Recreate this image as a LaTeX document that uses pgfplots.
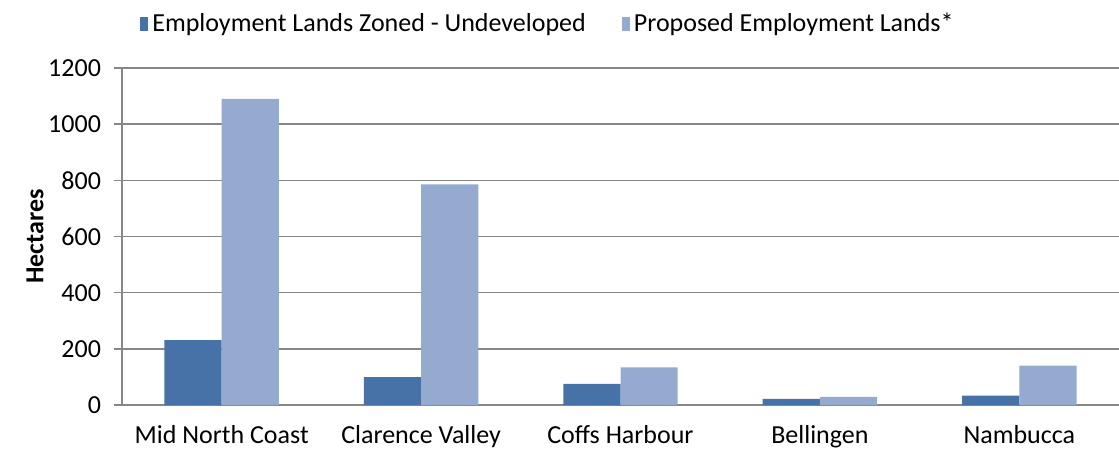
\documentclass[border=0pt]{standalone}
\usepackage{pgfplots}
\pgfplotsset{compat=1.18}
\usepackage{fontspec}
\setmainfont{Carlito}
\definecolor{darkb}{HTML}{4672A8}
\definecolor{lightb}{HTML}{94AACF}
\definecolor{gridc}{HTML}{878787}
\begin{document}
\begin{tikzpicture}
\useasboundingbox (-61pt,-22.5pt) rectangle (498.5pt,202.5pt);
\begin{axis}[
  scale only axis,
  width=498.5pt, height=168.5pt,
  ybar=0pt, bar width=28.6pt,
  xmin=-0.5, xmax=4.5,
  ymin=0, ymax=1200,
  ytick={0,200,...,1200},
  xtick={0,1,2,3,4},
  xticklabels={Mid North Coast,Clarence Valley,Coffs Harbour,Bellingen,Nambucca},
  major x tick style={draw=none},
  extra x ticks={-0.5,0.5,1.5,2.5,3.5,4.5},
  extra x tick labels={},
  extra x tick style={grid=none, major tick length=4pt, tick align=outside, tick style={draw=gridc, line width=0.8pt}},
  ymajorgrids,
  grid style={draw=gridc, line width=0.8pt},
  axis line style={draw=gridc, line width=0.8pt},
  axis x line*=bottom, axis y line*=left,
  y tick style={draw=gridc, line width=0.8pt},
  tick align=outside, major tick length=4pt,
  ylabel={\bfseries Hectares},
  ylabel style={yshift=-4.5pt},
  tick label style={font=\fontsize{13}{15}\selectfont},
  label style={font=\fontsize{13}{15}\selectfont},
  xticklabel style={yshift=-2.5pt},
  yticklabel style={xshift=-3pt},
  /pgf/number format/assume math mode=true,
  /pgf/number format/1000 sep={},
  legend columns=2,
  legend style={at={(axis description cs:0.018,1.131)}, anchor=west, draw=none, fill=none,
    font=\fontsize{13}{15}\selectfont, inner sep=0pt,
    /tikz/every even column/.append style={column sep=16pt}},
  legend image code/.code={\fill[#1] (0pt,-3.5pt) rectangle (4pt,3.5pt);},
  clip=false,
]
\addplot[fill=darkb, draw=none] coordinates {(0,231) (1,99) (2,75) (3,22) (4,33)};
\addplot[fill=lightb, draw=none] coordinates {(0,1090) (1,786) (2,134) (3,29) (4,140)};
\legend{Employment Lands Zoned - Undeveloped, Proposed Employment Lands*}
\end{axis}
\end{tikzpicture}
\end{document}
